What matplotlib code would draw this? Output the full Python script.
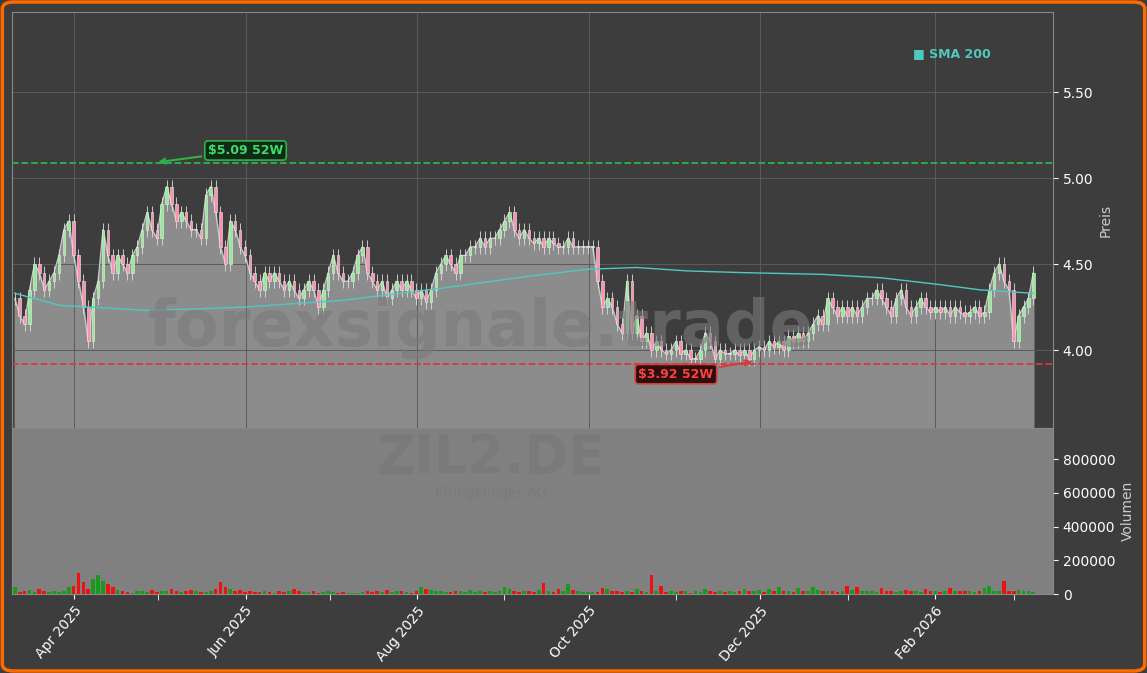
import numpy as np
import pandas as pd
import matplotlib
matplotlib.use('Agg')
from matplotlib import pyplot as plt
import matplotlib.dates as mdates
from matplotlib.patches import FancyBboxPatch, Rectangle

plt.rcParams['font.family'] = ['DejaVu Sans']

# Schlusskurse
closes = [
    4.30, 4.20, 4.15, 4.35, 4.50, 4.45, 4.35, 4.40, 4.45, 4.55,
    4.70, 4.75, 4.55, 4.40, 4.25, 4.05, 4.30, 4.40, 4.70, 4.55,
    4.45, 4.55, 4.50, 4.45, 4.55, 4.60, 4.70, 4.80, 4.70, 4.65,
    4.85, 4.95, 4.85, 4.75, 4.80, 4.75, 4.70, 4.70, 4.65, 4.90,
    4.95, 4.80, 4.60, 4.50, 4.75, 4.70, 4.60, 4.55, 4.45, 4.40,
    4.35, 4.45, 4.40, 4.45, 4.40, 4.35, 4.40, 4.35, 4.30, 4.35,
    4.40, 4.35, 4.25, 4.35, 4.45, 4.55, 4.45, 4.40, 4.40, 4.45,
    4.55, 4.60, 4.45, 4.40, 4.35, 4.40, 4.30, 4.35, 4.40, 4.35,
    4.40, 4.35, 4.30, 4.35, 4.28, 4.35, 4.45, 4.50, 4.55, 4.50,
    4.45, 4.55, 4.55, 4.60, 4.60, 4.65, 4.60, 4.65, 4.65, 4.70,
    4.75, 4.80, 4.70, 4.65, 4.70, 4.65, 4.62, 4.65, 4.60, 4.65,
    4.62, 4.60, 4.60, 4.65, 4.60, 4.60, 4.60, 4.60, 4.60, 4.40,
    4.25, 4.30, 4.25, 4.15, 4.10, 4.40, 4.10, 4.20, 4.05, 4.10,
    4.00, 4.05, 4.00, 3.98, 4.00, 4.05, 3.98, 4.00, 3.95, 3.95,
    4.00, 4.10, 4.05, 3.95, 4.00, 3.98, 3.98, 4.00, 3.97, 4.00,
    3.95, 4.00, 4.02, 4.00, 4.05, 4.02, 4.05, 4.00, 4.08, 4.05,
    4.10, 4.05, 4.10, 4.15, 4.20, 4.15, 4.30, 4.25, 4.20, 4.25,
    4.20, 4.25, 4.20, 4.25, 4.30, 4.30, 4.35, 4.30, 4.25, 4.20,
    4.30, 4.35, 4.25, 4.20, 4.25, 4.30, 4.25, 4.22, 4.25, 4.22,
    4.25, 4.20, 4.25, 4.22, 4.20, 4.22, 4.25, 4.20, 4.22, 4.35,
    4.45, 4.50, 4.40, 4.35, 4.05, 4.20, 4.25, 4.30, 4.45,
]
volumes_k = [
    40, 10, 15, 25, 10, 30, 15, 10, 20, 10,
    15, 40, 50, 125, 70, 30, 90, 110, 80, 60,
    40, 25, 20, 10, 5, 20, 15, 10, 25, 10,
    15, 20, 30, 15, 10, 20, 25, 15, 10, 10,
    20, 30, 70, 40, 30, 20, 25, 10, 15, 10,
    10, 20, 10, 5, 15, 10, 20, 30, 15, 10,
    10, 15, 5, 10, 15, 10, 8, 10, 5, 5,
    5, 10, 15, 10, 20, 10, 25, 10, 15, 20,
    10, 5, 15, 40, 30, 25, 15, 20, 10, 10,
    15, 20, 10, 25, 10, 15, 10, 20, 10, 15,
    40, 30, 20, 10, 15, 20, 10, 25, 65, 20,
    10, 30, 15, 60, 25, 15, 10, 10, 10, 10,
    35, 30, 20, 15, 10, 20, 10, 30, 15, 10,
    110, 15, 45, 10, 15, 10, 15, 20, 5, 15,
    10, 30, 15, 10, 20, 10, 15, 10, 15, 30,
    15, 20, 25, 10, 30, 15, 40, 20, 15, 10,
    35, 20, 15, 40, 25, 20, 15, 20, 10, 15,
    45, 25, 40, 20, 15, 20, 10, 35, 15, 20,
    10, 15, 25, 15, 20, 10, 30, 20, 15, 10,
    20, 35, 15, 20, 15, 20, 10, 15, 35, 45,
    20, 20, 80, 15, 20, 25, 20, 15, 10,
]
sma_dates = ['2025-03-11', '2025-03-27', '2025-04-28', '2025-06-01', '2025-07-06',
             '2025-08-10', '2025-09-10', '2025-10-01', '2025-10-18', '2025-11-05',
             '2025-11-25', '2025-12-23', '2026-01-13', '2026-02-03', '2026-02-17', '2026-03-08']
sma_vals = [4.33, 4.26, 4.23, 4.25, 4.29, 4.36, 4.43, 4.47, 4.48, 4.46,
            4.45, 4.44, 4.42, 4.38, 4.35, 4.33]
high_52w = 5.09
low_52w = 3.92

dates = pd.date_range('2025-03-11', '2026-03-08', periods=len(closes))
closes = np.array(closes)
opens = np.concatenate([[closes[0]], closes[:-1]])
vols = np.array(volumes_k) * 1000
up = closes >= opens

BG = '#3d3d3d'
fig = plt.figure(figsize=(11.47, 6.73), dpi=100, facecolor=BG)
fig.patches.append(FancyBboxPatch((0.002, 0.003), 0.996, 0.994, boxstyle='round,pad=0,rounding_size=0.01',
                                  transform=fig.transFigure, fill=False, edgecolor='#ff6a00', linewidth=2.5))
ax = fig.add_axes([12/1147, 1 - 428/673, 1041/1147, 416/673], facecolor=BG)
axv = fig.add_axes([12/1147, 1 - 594/673, 1041/1147, 166/673], facecolor='#808080', sharex=ax)

x = mdates.date2num(dates)
ax.fill_between(dates, closes, 3.5, color='#8c8c8c', zorder=1)
ax.plot(dates, closes, color='#c8c8c8', lw=0.9, zorder=2)
w = 0.9
for xi, o, c, u in zip(x, opens, closes, up):
    col = '#90ee90' if u else '#ff8fb0'
    lo, hi = min(o, c), max(o, c)
    ax.vlines(xi, lo - 0.04, hi + 0.04, color='#dddddd', lw=0.6, zorder=3)
    ax.add_patch(Rectangle((xi - w/2, lo), w, max(hi - lo, 0.004), facecolor=col, edgecolor='#eeeeee', lw=0.4, zorder=4))

ax.plot(pd.to_datetime(sma_dates), sma_vals, color='#4fc9c0', lw=1.0, zorder=5)
ax.axhline(high_52w, color='#2db34a', ls='--', lw=1.3, zorder=5)
ax.axhline(low_52w, color='#d83a3a', ls='--', lw=1.3, zorder=5)

ax.annotate(f'${high_52w:.2f} 52W', xy=(pd.Timestamp('2025-04-30'), high_52w), xytext=(pd.Timestamp('2025-06-01'), 5.16),
            color='#3ddc6a', fontsize=9, fontweight='bold', va='center', ha='center',
            bbox=dict(boxstyle='round,pad=0.25', fc='#0f2a17', ec='#2db34a', lw=1.2),
            arrowprops=dict(arrowstyle='->', color='#2db34a', lw=1.5))
ax.annotate(f'${low_52w:.2f} 52W', xy=(pd.Timestamp('2025-11-29'), 3.935), xytext=(pd.Timestamp('2025-11-01'), 3.86),
            color='#ff4040', fontsize=9, fontweight='bold', va='center', ha='center',
            bbox=dict(boxstyle='round,pad=0.25', fc='#2a0f0f', ec='#d83a3a', lw=1.2),
            arrowprops=dict(arrowstyle='->', color='#d83a3a', lw=1.5))

ax.text(0.45, 0.24, 'forexsignale.trade', transform=ax.transAxes, fontsize=46, fontweight='bold',
        color='#7a7a7a', alpha=0.6, ha='center', va='center', zorder=6)
ax.text(0.94, 0.9, '■ SMA 200', transform=ax.transAxes, color='#4fc9c0', fontsize=9,
        fontweight='bold', ha='right', va='center')

axv.bar(dates[up], vols[up], width=1.3, color='#1a9a1a')
axv.bar(dates[~up], vols[~up], width=1.3, color='#ee1111')
axv.text(0.46, 0.82, 'ZIL2.DE', transform=axv.transAxes, fontsize=38, fontweight='bold',
         color='#7a7a7a', ha='center', va='center')
axv.text(0.46, 0.61, 'Elringklinger AG', transform=axv.transAxes, fontsize=10,
         color='#7a7a7a', ha='center', va='center')

ax.set_ylim(3.547, 5.965)
axv.set_ylim(0, 985000)
ax.set_xlim(pd.Timestamp('2025-03-10'), pd.Timestamp('2026-03-15'))
for a in (ax, axv):
    a.yaxis.tick_right()
    a.yaxis.set_label_position('right')
    a.tick_params(colors='white', labelsize=10)
    a.grid(True, color='#5a5a5a', lw=0.7)
    for s in a.spines.values():
        s.set_color('#888888')
ax.set_yticks([4.0, 4.5, 5.0, 5.5])
ax.set_yticklabels(['4.00', '4.50', '5.00', '5.50'])
ax.set_ylabel('Preis', color='#cccccc')
axv.set_yticks([0, 200000, 400000, 600000, 800000])
axv.set_ylabel('Volumen', color='#cccccc')
axv.grid(False)
ax.tick_params(labelbottom=False)
axv.xaxis.set_major_locator(mdates.MonthLocator(bymonth=[4, 6, 8, 10, 12, 2]))
axv.xaxis.set_minor_locator(mdates.MonthLocator())
axv.xaxis.set_major_formatter(mdates.DateFormatter('%b %Y'))
axv.tick_params(axis='x', which='minor', colors='white', length=4)
plt.setp(axv.get_xticklabels(), rotation=50, ha='right', rotation_mode='anchor')

fig.savefig('out.png', dpi=100, facecolor=BG)
